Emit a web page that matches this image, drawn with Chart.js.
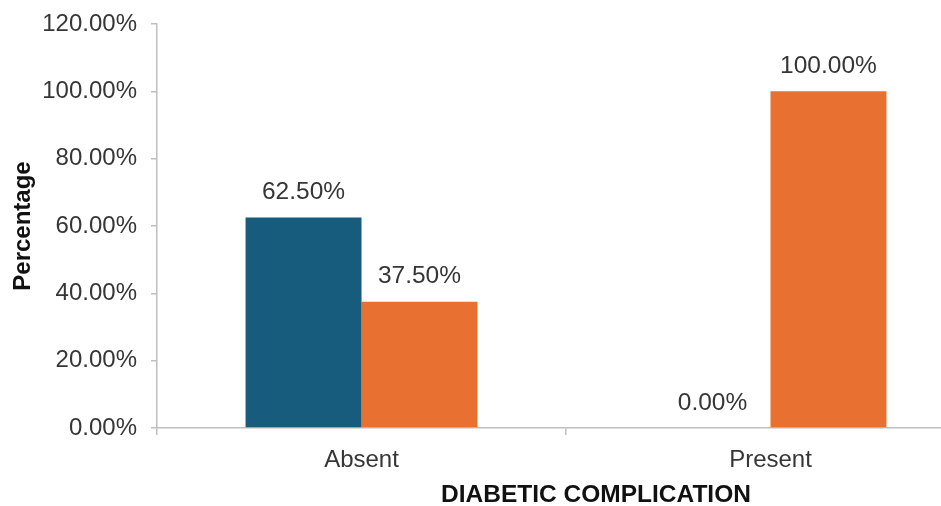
<!DOCTYPE html>
<html>
<head>
<meta charset="utf-8">
<script src="https://cdn.jsdelivr.net/npm/chart.js@4/dist/chart.umd.min.js"></script>
<style>
  html, body { margin: 0; padding: 0; background: #ffffff; }
  #wrap { width: 941px; height: 506px; overflow: hidden; position: relative; }
  canvas { display: block; }
</style>
</head>
<body>
<div id="wrap"><canvas id="c" width="1000" height="506"></canvas></div>
<script>
// Categories and series values (percent)
const categories = ['Absent', 'Present'];
const seriesA = [62.5, 0];
const seriesB = [37.5, 100];
const yTicks = [0, 20, 40, 60, 80, 100, 120];
const xAxisTitle = 'DIABETIC COMPLICATION';
const yAxisTitle = 'Percentage';

const FONT = '"Liberation Sans", Arial, sans-serif';
const TEXT = '#363636';
const AXIS = '#bfbfbf';
const fmt = v => v.toFixed(2) + '%';

// Percentage labels above each bar
const valueLabels = {
  id: 'valueLabels',
  afterDatasetsDraw(chart) {
    const ctx = chart.ctx;
    ctx.save();
    ctx.font = '24.5px ' + FONT;
    ctx.fillStyle = TEXT;
    ctx.textAlign = 'center';
    ctx.textBaseline = 'bottom';
    chart.data.datasets.forEach((ds, i) => {
      chart.getDatasetMeta(i).data.forEach((bar, j) => {
        ctx.fillText(fmt(ds.data[j]), bar.x, bar.y - 13);
      });
    });
    ctx.restore();
  }
};

// Category axis title below the tick labels
const bottomTitle = {
  id: 'bottomTitle',
  afterDraw(chart) {
    const ctx = chart.ctx;
    const a = chart.chartArea;
    ctx.save();
    ctx.font = 'bold 24.5px ' + FONT;
    ctx.fillStyle = '#111111';
    ctx.textAlign = 'center';
    ctx.textBaseline = 'middle';
    ctx.fillText(xAxisTitle, (a.left + a.right) / 2 + 30, 495);
    ctx.restore();
  }
};

new Chart(document.getElementById('c'), {
  type: 'bar',
  data: {
    labels: categories,
    datasets: [
      { data: seriesA, backgroundColor: '#175b7d', borderWidth: 0 },
      { data: seriesB, backgroundColor: '#e87132', borderWidth: 0 }
    ]
  },
  options: {
    responsive: false,
    animation: false,
    events: [],
    layout: { padding: { top: 24, right: 25, left: 0, bottom: 0 } },
    datasets: { bar: { categoryPercentage: 0.567, barPercentage: 1.0 } },
    plugins: { legend: { display: false }, tooltip: { enabled: false } },
    scales: {
      x: {
        grid: { drawOnChartArea: false, drawTicks: true, tickLength: 7, color: AXIS, lineWidth: 1.5 },
        border: { display: true, color: AXIS, width: 1.5 },
        ticks: { font: { family: FONT, size: 24 }, color: TEXT, padding: 11 },
        afterFit(scale) { scale.height = 78; }
      },
      y: {
        min: 0,
        max: 120,
        afterBuildTicks(scale) { scale.ticks = yTicks.map(v => ({ value: v })); },
        grid: { drawOnChartArea: false, drawTicks: true, tickLength: 6, color: AXIS, lineWidth: 1.5 },
        border: { display: true, color: AXIS, width: 1.5 },
        ticks: { font: { family: FONT, size: 24, lineHeight: 1 }, color: TEXT, padding: 14, callback: v => fmt(v) },
        title: {
          display: true,
          text: yAxisTitle,
          font: { family: FONT, size: 24, weight: 'bold' },
          color: '#111111',
          padding: { top: 9, bottom: 0 }
        },
        afterFit(scale) {
          scale.width = 157;
          scale.paddingTop = 0;
        }
      }
    }
  },
  plugins: [valueLabels, bottomTitle]
});
</script>
</body>
</html>
